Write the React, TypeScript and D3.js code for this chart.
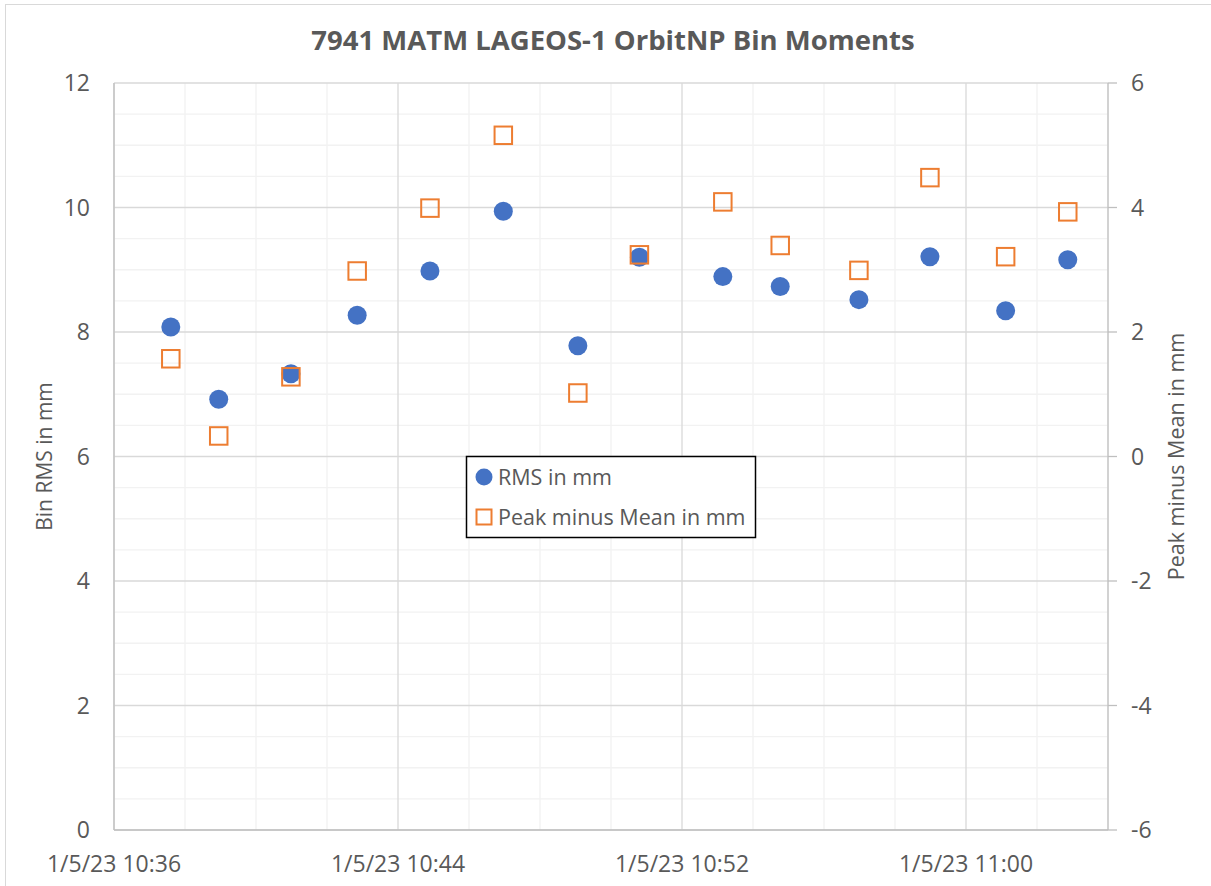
import React, { useEffect, useRef } from 'react';
import * as d3 from 'd3';

// bin times on 1/5/23
const binTimes = [
  '10:37:36', '10:38:57', '10:40:59', '10:42:51', '10:44:54', '10:46:58', '10:49:04',
  '10:50:48', '10:53:09', '10:54:46', '10:56:59', '10:58:59', '11:01:07', '11:02:52',
];
const rmsValues = [8.08, 6.92, 7.33, 8.27, 8.98, 9.94, 7.78, 9.2, 8.89, 8.73, 8.52, 9.21, 8.34, 9.16];
const peakMinusMean = [1.57, 0.33, 1.28, 2.98, 3.99, 5.16, 1.02, 3.24, 4.09, 3.39, 2.99, 4.48, 3.21, 3.93];
const leftTicks = [0, 2, 4, 6, 8, 10, 12];
const rightTicks = [-6, -4, -2, 0, 2, 4, 6];

const title = '7941 MATM LAGEOS-1 OrbitNP Bin Moments';
const seriesNames = ['RMS in mm', 'Peak minus Mean in mm'];

const width = 1211;
const height = 886;
const font = '"Open Sans", "Noto Sans", sans-serif';
const textColor = '#595959';
const blue = '#4472C4';
const orange = '#ED7D31';

const parseTime = d3.timeParse('%Y-%m-%d %H:%M:%S');

export default function App() {
  const ref = useRef<SVGSVGElement>(null);

  useEffect(() => {
    const svg = d3.select(ref.current);
    svg.selectAll('*').remove();

    const left = 114, right = 1108, top = 83, bottom = 830;
    const t0 = parseTime('2023-01-05 10:36:00') as Date;
    const t1 = parseTime('2023-01-05 11:04:00') as Date;
    const x = d3.scaleTime().domain([t0, t1]).range([left, right]);
    const yL = d3.scaleLinear().domain([0, 12]).range([bottom, top]);
    const yR = d3.scaleLinear().domain([-6, 6]).range([bottom, top]);

    const points = binTimes.map((t, i) => ({
      time: parseTime('2023-01-05 ' + t) as Date,
      rms: rmsValues[i],
      peak: peakMinusMean[i],
    }));

    // outer chart border
    svg.append('rect')
      .attr('x', 5.5).attr('y', 4.5).attr('width', 1220).attr('height', 900)
      .attr('fill', 'white').attr('stroke', '#d9d9d9');

    const grid = svg.append('g');
    // minor horizontal
    d3.range(0, 12.01, 0.5).filter(v => v % 2 !== 0).forEach(v => {
      grid.append('line').attr('x1', left).attr('x2', right)
        .attr('y1', yL(v)).attr('y2', yL(v)).attr('stroke', '#f2f2f2').attr('stroke-width', 1.3);
    });
    const minuteTicks = d3.timeMinute.every(2)!.range(t0, new Date(+t1 + 1));
    minuteTicks.forEach((t, i) => {
      if (i % 4 === 0) return;
      grid.append('line').attr('x1', x(t)).attr('x2', x(t))
        .attr('y1', top).attr('y2', bottom).attr('stroke', '#f2f2f2').attr('stroke-width', 1.3);
    });
    // major
    leftTicks.forEach(v => {
      grid.append('line').attr('x1', left).attr('x2', right)
        .attr('y1', yL(v)).attr('y2', yL(v)).attr('stroke', '#d9d9d9').attr('stroke-width', 1.3);
    });
    const labelTicks = minuteTicks.filter((_, i) => i % 4 === 0);
    labelTicks.forEach(t => {
      grid.append('line').attr('x1', x(t)).attr('x2', x(t))
        .attr('y1', top).attr('y2', bottom).attr('stroke', '#d9d9d9').attr('stroke-width', 1.3);
    });

    // axis lines
    svg.append('line').attr('x1', left).attr('x2', left).attr('y1', top).attr('y2', bottom)
      .attr('stroke', '#bfbfbf').attr('stroke-width', 1.3);
    svg.append('line').attr('x1', left).attr('x2', right).attr('y1', bottom).attr('y2', bottom)
      .attr('stroke', '#bfbfbf').attr('stroke-width', 1.3);
    svg.append('line').attr('x1', right).attr('x2', right).attr('y1', top).attr('y2', bottom)
      .attr('stroke', '#bfbfbf').attr('stroke-width', 1.3);
    rightTicks.forEach(v => {
      svg.append('line').attr('x1', right).attr('x2', right + 9)
        .attr('y1', yR(v)).attr('y2', yR(v)).attr('stroke', '#bfbfbf').attr('stroke-width', 1.3);
    });

    // tick labels
    const txt = svg.append('g').attr('font-family', font).attr('fill', textColor).attr('font-size', 23);
    leftTicks.forEach(v => {
      txt.append('text').attr('x', 90).attr('y', yL(v)).attr('dy', '0.35em')
        .attr('text-anchor', 'end').text(v);
    });
    rightTicks.forEach(v => {
      txt.append('text').attr('x', 1131).attr('y', yR(v)).attr('dy', '0.35em').text(v);
    });
    const fmt = d3.timeFormat('%-m/%-d/%y %H:%M');
    labelTicks.forEach(t => {
      txt.append('text').attr('x', x(t)).attr('y', 864).attr('dy', '0.35em')
        .attr('text-anchor', 'middle').text(fmt(t));
    });

    // axis titles
    txt.append('text').attr('transform', `translate(45,${(top + bottom) / 2}) rotate(-90)`)
      .attr('text-anchor', 'middle').attr('dy', '0.35em').attr('font-size', 21).text('Bin RMS in mm');
    txt.append('text').attr('transform', `translate(1176,${(top + bottom) / 2}) rotate(-90)`)
      .attr('text-anchor', 'middle').attr('dy', '0.35em').attr('font-size', 21.5).text('Peak minus Mean in mm');

    // title
    svg.append('text').attr('x', 613).attr('y', 40).attr('dy', '0.35em')
      .attr('text-anchor', 'middle').attr('font-family', font).attr('font-weight', 'bold')
      .attr('font-size', 27.5).attr('fill', textColor).text(title);

    // series
    svg.append('g').selectAll('circle').data(points).join('circle')
      .attr('cx', d => x(d.time)).attr('cy', d => yL(d.rms)).attr('r', 9.5).attr('fill', blue);
    const s = 17.5;
    svg.append('g').selectAll('rect').data(points).join('rect')
      .attr('x', d => x(d.time) - s / 2).attr('y', d => yR(d.peak) - s / 2)
      .attr('width', s).attr('height', s)
      .attr('fill', 'none').attr('stroke', orange).attr('stroke-width', 2);

    // legend
    const lg = svg.append('g');
    lg.append('rect').attr('x', 466.5).attr('y', 456.5).attr('width', 289).attr('height', 81)
      .attr('fill', 'white').attr('stroke', 'black').attr('stroke-width', 1.5);
    lg.append('circle').attr('cx', 484).attr('cy', 477).attr('r', 8.5).attr('fill', blue);
    lg.append('rect').attr('x', 476.5).attr('y', 509.5).attr('width', 15).attr('height', 15)
      .attr('fill', 'none').attr('stroke', orange).attr('stroke-width', 2);
    seriesNames.forEach((n, i) => {
      lg.append('text').attr('x', 498).attr('y', 477 + i * 40).attr('dy', '0.35em')
        .attr('font-family', font).attr('font-size', 21.5).attr('fill', textColor).text(n);
    });
  }, []);

  return (
    <div style={{ position: 'absolute', left: 0, top: 0 }}>
      <svg ref={ref} width={width} height={height} style={{ display: 'block' }} />
    </div>
  );
}
